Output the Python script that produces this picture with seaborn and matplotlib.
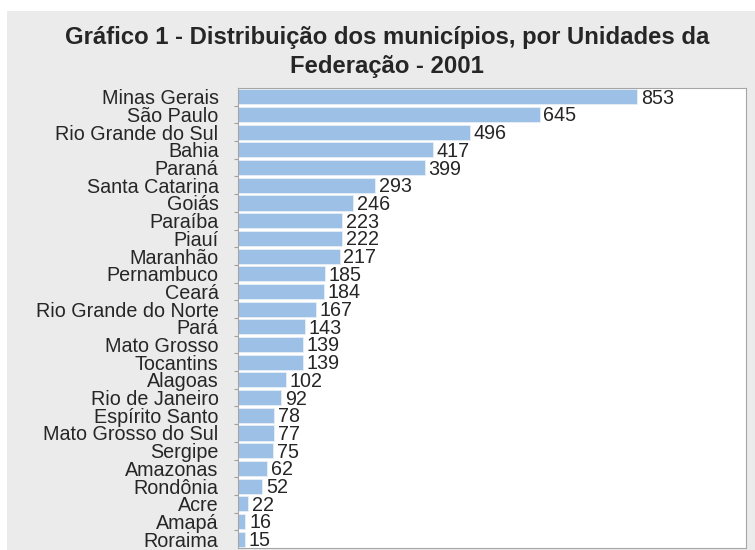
import pandas as pd
import seaborn as sns
import matplotlib.pyplot as plt
from matplotlib.patches import Rectangle
from matplotlib.ticker import FixedLocator

# Data - number of municipalities per state (2001)
estados = ["Minas Gerais", "São Paulo", "Rio Grande do Sul", "Bahia", "Paraná",
           "Santa Catarina", "Goiás", "Paraíba", "Piauí", "Maranhão",
           "Pernambuco", "Ceará", "Rio Grande do Norte", "Pará", "Mato Grosso",
           "Tocantins", "Alagoas", "Rio de Janeiro", "Espírito Santo",
           "Mato Grosso do Sul", "Sergipe", "Amazonas", "Rondônia", "Acre",
           "Amapá", "Roraima"]
municipios = [853, 645, 496, 417, 399, 293, 246, 223, 222, 217, 185, 184, 167,
              143, 139, 139, 102, 92, 78, 77, 75, 62, 52, 22, 16, 15]

df = pd.DataFrame({"estado": estados, "municipios": municipios})

sns.set_style("white")
plt.rcParams['font.family'] = ['Liberation Sans Narrow', 'Liberation Sans', 'DejaVu Sans']

fig = plt.figure(figsize=(7.55, 5.5), dpi=100)
fig.patch.set_facecolor("white")
# grey panel behind everything
fig.patches.append(Rectangle((7 / 755, 0), 748 / 755, 539 / 550, transform=fig.transFigure,
                             facecolor="#ebebeb", edgecolor="none", zorder=-10))

ax = fig.add_axes([238 / 755, 2 / 550, 508 / 755, 460 / 550])
sns.barplot(data=df, x="municipios", y="estado", color="#9dc0e6", saturation=1,
            width=0.85, edgecolor="#e8eef6", linewidth=0.6, ax=ax)

ax.set_xlim(0, 1086)
ax.set_ylim(len(estados) - 0.5, -0.5)
ax.set_xticks([])
ax.set_xlabel("")
ax.set_ylabel("")
ax.tick_params(axis="y", which="major", length=0, pad=14, labelsize=14.2)
ax.yaxis.set_minor_locator(FixedLocator([i + 0.5 for i in range(len(estados) - 1)]))
ax.tick_params(axis="y", which="minor", left=True, direction="out", length=3,
               width=0.8, color="#a0a0a0")
for s in ax.spines.values():
    s.set_color("#a6a6a6")
    s.set_linewidth(0.8)
ax.set_facecolor("white")

for i, v in enumerate(municipios):
    ax.text(v + 8, i + 0.08, str(v), va="center", ha="left", fontsize=14.2)

fig.suptitle("Gráfico 1 - Distribuição dos municípios, por Unidades da\nFederação - 2001",
             x=387 / 755, y=1 - 26 / 550, va="top", fontsize=17.2, fontweight="bold",
             linespacing=1.35)

fig.savefig("out.png", dpi=100)
